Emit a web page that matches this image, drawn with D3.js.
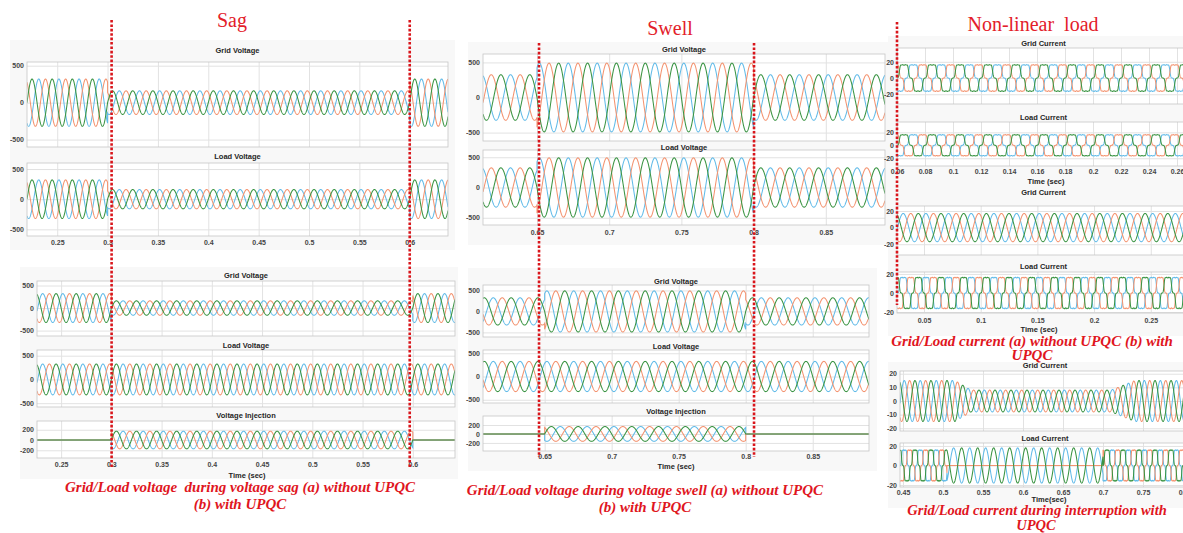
<!DOCTYPE html>
<html>
<head>
<meta charset="utf-8">
<script src="https://cdn.jsdelivr.net/npm/d3@7"></script>
<style>
  body { margin: 0; background: #fff; }
  svg { display: block; font-family: "Liberation Sans", Arial, sans-serif; }
  .tick text { font-size: 7px; font-weight: bold; fill: #454545; }
  .ptitle { font-size: 7.5px; font-weight: bold; fill: #262626; text-anchor: middle; }
  .section { font-family: "Liberation Serif", "Times New Roman", serif; font-size: 20px; fill: #e3202a; text-anchor: middle; white-space: pre; }
  .caption { font-family: "Liberation Serif", "Times New Roman", serif; font-weight: bold; font-style: italic; fill: #e0161e; text-anchor: middle; white-space: pre; }
</style>
</head>
<body>
<svg id="chart" width="1183" height="533"></svg>
<script>
// ---------------- data ----------------
const freq = 50
const phaseColors = ["#62bbe8", "#f39370", "#3a9443"]   // blue, orange, green
const balanced = [-120, 120, 0]
const lineToLine = [-150, null, 30]                      // orange phase open during interruption
const harmonicOrders = [1, 5, 7, 11]                     // non-linear (rectifier) current content
const harmonicWeights = [1, -0.15, -0.07, 0.03]

// segments: [start, end, peak at start, peak at end, shape, phases]
const sagGrid = [
  [0.20, 0.30, 320, 320, "sine", balanced],
  [0.30, 0.60, 160, 160, "sine", balanced],
  [0.60, 0.70, 320, 320, "sine", balanced]
]
const sagLoadUpqc = [[0.20, 0.70, 325, 325, "sine", balanced]]
const sagInjection = [
  [0.20, 0.30, 0, 0, "sine", balanced],
  [0.30, 0.60, 172, 172, "sine", balanced],
  [0.60, 0.70, 0, 0, "sine", balanced]
]
const swellGrid = [
  [0.60, 0.65, 325, 325, "sine", balanced],
  [0.65, 0.80, 490, 490, "sine", balanced],
  [0.80, 0.90, 325, 325, "sine", balanced]
]
const swellLoadUpqc = [[0.60, 0.90, 325, 325, "sine", balanced]]
const swellInjection = [
  [0.60, 0.65, 0, 0, "sine", balanced],
  [0.65, 0.80, -165, -165, "sine", balanced],
  [0.80, 0.90, 0, 0, "sine", balanced]
]
const nlCurrent = [[0.02, 0.30, 16.5, 16.5, "rect", balanced]]
const nlGridUpqc = [[0.02, 0.30, 17, 17, "sine", balanced]]
const intGrid = [
  [0.44, 0.515, 15, 15, "sine", balanced],
  [0.515, 0.535, 15, 8, "sine", balanced],
  [0.535, 0.71, 8, 8, "sine", balanced],
  [0.71, 0.74, 8, 15, "sine", balanced],
  [0.74, 0.82, 15, 15, "sine", balanced]
]
const intLoad = [
  [0.44, 0.505, 16, 16, "rect", balanced],
  [0.505, 0.70, 18, 18, "sine", lineToLine],
  [0.70, 0.82, 16, 16, "rect", balanced]
]

const voltTicks = [-500, 0, 500]
const injTicks = [-200, 0, 200]
const currTicks = [-20, 0, 20]
const currTicksFine = [-20, -10, 0, 10, 20]
const sagTimeTicks = [0.25, 0.3, 0.35, 0.4, 0.45, 0.5, 0.55, 0.6]
const swellTimeTicks = [0.65, 0.7, 0.75, 0.8, 0.85]
const nlTimeTicksA = [0.06, 0.08, 0.1, 0.12, 0.14, 0.16, 0.18, 0.2, 0.22, 0.24, 0.26]
const nlTimeTicksB = [0.05, 0.1, 0.15, 0.2, 0.25]
const nlTimeTicksC = [0.45, 0.5, 0.55, 0.6, 0.65, 0.7, 0.75, 0.8]

const sagMarks = [0.304, 0.6]
const swellMarks = [0.6514, 0.8003]
const nlMarks = [0.06]

// ---------------- layout ----------------
const figures = [
  { bg: [10, 40, 445, 210], x: [27, 448], domain: [0.22, 0.638], xTicks: sagTimeTicks, tickY: 243, timeY: null,
    panels: [
      { title: "Grid Voltage", titleY: 53, y: [62, 147], yDomain: [-600, 550], yTicks: voltTicks, data: sagGrid },
      { title: "Load Voltage", titleY: 159, y: [163, 236], yDomain: [-610, 600], yTicks: voltTicks, data: sagGrid }
    ] },
  { bg: [20, 267, 438, 212], x: [37, 455], domain: [0.226, 0.642], xTicks: sagTimeTicks, tickY: 465, timeX: 247, timeY: 478, timeLabel: "Time (sec)",
    panels: [
      { title: "Grid Voltage", titleY: 277.5, y: [281, 336], yDomain: [-620, 600], yTicks: voltTicks, data: sagGrid },
      { title: "Load Voltage", titleY: 348, y: [350, 407], yDomain: [-580, 620], yTicks: voltTicks, data: sagLoadUpqc },
      { title: "Voltage Injection", titleY: 418, y: [421, 458], yDomain: [-350, 370], yTicks: injTicks, data: sagInjection }
    ] },
  { bg: [468, 42, 422, 203], x: [483, 885], domain: [0.6126, 0.891], xTicks: swellTimeTicks, tickY: 233, timeY: null,
    panels: [
      { title: "Grid Voltage", titleY: 52, y: [54, 141], yDomain: [-620, 620], yTicks: voltTicks, data: swellGrid },
      { title: "Load Voltage", titleY: 149.5, y: [150, 225], yDomain: [-620, 620], yTicks: voltTicks, data: swellGrid }
    ] },
  { bg: [468, 268, 409, 203], x: [483, 869], domain: [0.604, 0.892], xTicks: swellTimeTicks, tickY: 456.7, timeX: 676, timeY: 468.7, timeLabel: "Time (sec)",
    panels: [
      { title: "Grid Voltage", titleY: 284, y: [285, 337], yDomain: [-610, 630], yTicks: voltTicks, data: swellGrid },
      { title: "Load Voltage", titleY: 348.7, y: [350, 403], yDomain: [-570, 570], yTicks: voltTicks, data: swellLoadUpqc },
      { title: "Voltage Injection", titleY: 413.7, y: [416, 451], yDomain: [-380, 400], yTicks: injTicks, data: swellInjection }
    ] },
  { bg: [888, 36, 295, 150], x: [897, 1190], domain: [0.06, 0.2693], xTicks: nlTimeTicksA, tickY: 172, timeX: 1046, timeY: 183.5, timeLabel: "Time (sec)",
    panels: [
      { title: "Grid Current", titleY: 46, y: [48, 104], yDomain: [-32, 37], yTicks: currTicks, data: nlCurrent },
      { title: "Load Current", titleY: 120, y: [122, 166], yDomain: [-32, 36], yTicks: currTicks, data: nlCurrent }
    ] },
  { bg: [888, 186, 295, 150], x: [897, 1190], domain: [0.0262, 0.2846], xTicks: nlTimeTicksB, tickY: 320.5, timeX: 1039, timeY: 331.5, timeLabel: "Time (sec)",
    panels: [
      { title: "Grid Current", titleY: 195, y: [206, 255], yDomain: [-33, 26], yTicks: currTicks, data: nlGridUpqc },
      { title: "Load Current", titleY: 269, y: [272, 313], yDomain: [-21, 22], yTicks: currTicks, data: nlCurrent }
    ] },
  { bg: [888, 362, 295, 146], x: [900, 1190], domain: [0.4463, 0.8087], xTicks: nlTimeTicksC, tickY: 493, timeX: 1049, timeY: 502, timeLabel: "Time(sec)",
    panels: [
      { title: "Grid Current", titleY: 368, y: [371, 431], yDomain: [-22, 22], yTicks: currTicksFine, data: intGrid },
      { title: "Load Current", titleY: 441, y: [443, 487], yDomain: [-22, 23], yTicks: currTicks, data: intLoad }
    ] }
]

const sections = [
  { text: "Sag", x: 232, y: 27 },
  { text: "Swell", x: 670, y: 35 },
  { text: "Non-linear  load", x: 1033, y: 31 }
]
const captions = [
  { text: "Grid/Load voltage  during voltage sag (a) without UPQC", x: 240, y: 492, size: 15 },
  { text: "(b) with UPQC", x: 240, y: 509, size: 15 },
  { text: "Grid/Load voltage during voltage swell (a) without UPQC", x: 645, y: 495, size: 15 },
  { text: "(b) with UPQC", x: 645, y: 512, size: 15 },
  { text: "Grid/Load current (a) without UPQC (b) with", x: 1032, y: 346, size: 15 },
  { text: "UPQC", x: 1032, y: 360, size: 15 },
  { text: "Grid/Load current during interruption with", x: 1037, y: 515, size: 14.5 },
  { text: "UPQC", x: 1036, y: 530, size: 14.5 }
]

// ---------------- waveform helpers ----------------
function harmonicSum(theta){
  return d3.sum(harmonicOrders, (h, i) => harmonicWeights[i] * Math.sin(h * theta))
}
const rectNorm = d3.max(d3.range(0, 2 * Math.PI, 0.002), harmonicSum)

function waveShape(theta, shape){
  if(shape === "rect") return harmonicSum(theta) / rectNorm
  return Math.sin(theta)
}

function sampleTrace(segments, domain, step, phaseIdx){
  const pts = []
  for(const [t0, t1, a0, a1, shape, phases] of segments){
    const s = Math.max(t0, domain[0]), e = Math.min(t1, domain[1])
    if(s >= e) continue
    const ph = phases[phaseIdx]
    const n = Math.ceil((e - s) / step)
    for(let i = 0; i <= n; i++){
      const t = s + (e - s) * i / n
      const amp = ph === null ? 0 : a0 + (a1 - a0) * (t - t0) / (t1 - t0)
      const theta = 2 * Math.PI * freq * t + (ph || 0) * Math.PI / 180
      pts.push([t, amp * waveShape(theta, shape)])
    }
  }
  return pts
}

// ---------------- drawing ----------------
const svg = d3.select("#chart")
svg.append("rect").attr("width", 1183).attr("height", 533).attr("fill", "#fff")

const fmtTime = d => String(+d.toFixed(3))
let clipId = 0
const xScales = []

for(const fig of figures){
  const g = svg.append("g")
  g.append("rect")
    .attr("x", fig.bg[0]).attr("y", fig.bg[1])
    .attr("width", fig.bg[2]).attr("height", fig.bg[3])
    .attr("fill", "#f8f8f8")

  const x = d3.scaleLinear().domain(fig.domain).range(fig.x)
  xScales.push(x)
  const step = (fig.domain[1] - fig.domain[0]) / ((fig.x[1] - fig.x[0]) * 6)

  fig.panels.forEach((p) => {
    const y = d3.scaleLinear().domain(p.yDomain).range([p.y[1], p.y[0]])
    const pg = g.append("g")
    pg.append("rect")
      .attr("x", fig.x[0]).attr("y", p.y[0])
      .attr("width", fig.x[1] - fig.x[0]).attr("height", p.y[1] - p.y[0])
      .attr("fill", "#fff")

    // grid lines
    pg.append("g")
      .attr("transform", `translate(0,${p.y[1]})`)
      .call(d3.axisBottom(x).tickValues(fig.xTicks).tickSize(-(p.y[1] - p.y[0])).tickFormat(""))
      .call(a => a.select(".domain").remove())
      .call(a => a.selectAll("line").attr("stroke", "#e2e2e2"))
    pg.append("g")
      .attr("transform", `translate(${fig.x[0]},0)`)
      .call(d3.axisLeft(y).tickValues(p.yTicks).tickSize(-(fig.x[1] - fig.x[0])).tickFormat(""))
      .call(a => a.select(".domain").remove())
      .call(a => a.selectAll("line").attr("stroke", "#e2e2e2"))

    const id = "clip" + (clipId++)
    pg.append("clipPath").attr("id", id)
      .append("rect")
      .attr("x", fig.x[0]).attr("y", p.y[0])
      .attr("width", fig.x[1] - fig.x[0]).attr("height", p.y[1] - p.y[0])

    const line = d3.line().x(d => x(d[0])).y(d => y(d[1]))
    const traces = [0, 1, 2].map(k => sampleTrace(p.data, fig.domain, step, k))
    pg.append("g").attr("clip-path", `url(#${id})`)
      .selectAll("path")
      .data(traces)
      .join("path")
      .attr("d", line)
      .attr("fill", "none")
      .attr("stroke", (d, k) => phaseColors[k])
      .attr("stroke-width", 1.05)

    pg.append("rect")
      .attr("x", fig.x[0]).attr("y", p.y[0])
      .attr("width", fig.x[1] - fig.x[0]).attr("height", p.y[1] - p.y[0])
      .attr("fill", "none").attr("stroke", "#c6c6c6").attr("stroke-width", 0.8)

    // y tick labels
    pg.append("g")
      .attr("transform", `translate(${fig.x[0]},0)`)
      .call(d3.axisLeft(y).tickValues(p.yTicks).tickSize(0).tickPadding(3).tickFormat(d => String(d)))
      .call(a => a.select(".domain").remove())

    pg.append("text").attr("class", "ptitle")
      .attr("x", (fig.x[0] + fig.x[1]) / 2).attr("y", p.titleY)
      .text(p.title)
  })

  // x tick labels
  g.append("g")
    .attr("transform", `translate(0,${fig.tickY - 2.5})`)
    .call(d3.axisBottom(x).tickValues(fig.xTicks).tickSize(0).tickPadding(0).tickFormat(fmtTime))
    .call(a => a.select(".domain").remove())

  if(fig.timeY){
    g.append("text").attr("class", "ptitle")
      .attr("x", fig.timeX)
      .attr("y", fig.timeY)
      .text(fig.timeLabel)
  }
}

// section headings and captions
svg.selectAll("text.section")
  .data(sections)
  .join("text")
  .attr("class", "section")
  .attr("x", d => d.x).attr("y", d => d.y)
  .text(d => d.text)

svg.selectAll("text.caption")
  .data(captions)
  .join("text")
  .attr("class", "caption")
  .attr("x", d => d.x).attr("y", d => d.y)
  .attr("font-size", d => d.size)
  .text(d => d.text)

// red dotted event markers
const markers = [
  ...sagMarks.map(t => ({ x: xScales[0](t), y0: 20, y1: 468 })),
  ...swellMarks.map(t => ({ x: xScales[2](t), y0: 43, y1: 457 })),
  ...nlMarks.map(t => ({ x: xScales[4](t), y0: 22, y1: 305 }))
]
svg.selectAll("line.marker")
  .data(markers)
  .join("line")
  .attr("class", "marker")
  .attr("x1", d => d.x).attr("x2", d => d.x)
  .attr("y1", d => d.y0).attr("y2", d => d.y1)
  .attr("stroke", "#d9151b")
  .attr("stroke-width", 2.6)
  .attr("stroke-dasharray", "2.6,1.8")
</script>
</body>
</html>
